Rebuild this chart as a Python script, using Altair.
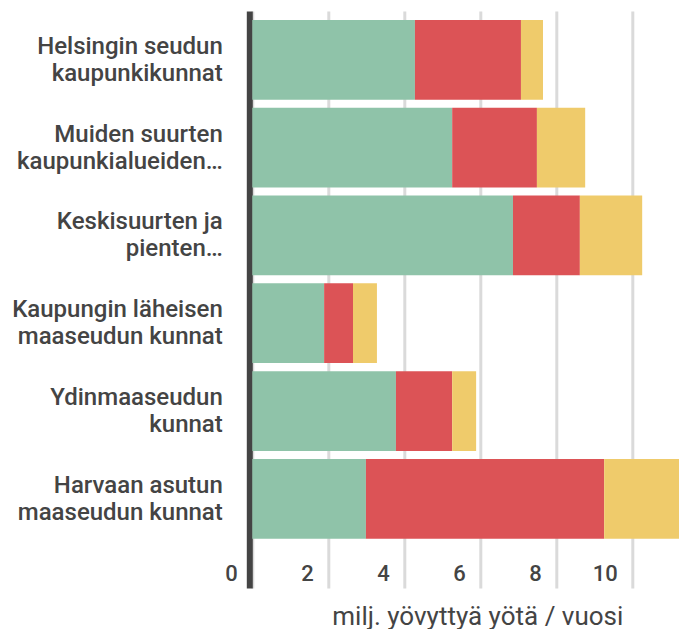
import altair as alt
import pandas as pd

categories = [
    "Helsingin seudun|kaupunkikunnat",
    "Muiden suurten|kaupunkialueiden…",
    "Keskisuurten ja|pienten…",
    "Kaupungin läheisen|maaseudun kunnat",
    "Ydinmaaseudun|kunnat",
    "Harvaan asutun|maaseudun kunnat",
]
series = ["Majoitusliikkeet", "Vapaa-ajan asunnot", "Sukulaiset ja tuttavat"]
green_values = [4.28, 5.26, 6.86, 1.89, 3.78, 2.99]
red_values = [2.79, 2.23, 1.76, 0.76, 1.48, 6.27]
yellow_values = [0.58, 1.27, 1.64, 0.63, 0.63, 1.97]
colors = ["#8FC3A9", "#DC5356", "#EFCB6B"]
x_ticks = [0, 2, 4, 6, 8, 10]
x_title = "milj. yövyttyä yötä / vuosi"

rows = []
for i, cat in enumerate(categories):
    for j, (s, vals) in enumerate(zip(series, [green_values, red_values, yellow_values])):
        rows.append({"alue": cat, "tyyppi": s, "arvo": vals[i], "jarj": j})
df = pd.DataFrame(rows)

FONT = "Roboto"

chart = (
    alt.Chart(df)
    .mark_bar()
    .encode(
        x=alt.X(
            "arvo:Q",
            stack="zero",
            scale=alt.Scale(domain=[0, 11.1], nice=False),
            axis=alt.Axis(
                values=x_ticks,
                grid=True,
                gridColor="#dadada",
                gridWidth=3,
                domain=False,
                ticks=False,
                tickSize=0,
                labelAlign="right",
                labelOffset=-15,
                labelBaseline="alphabetic",
                labelPadding=-8,
                labelFlush=False,
                labelFont=FONT,
                labelFontSize=22,
                labelFontWeight=500,
                labelColor="#444444",
                title=x_title,
                titleFont=FONT,
                titleFontSize=26,
                titleFontWeight=400,
                titleColor="#444444",
                titleX=225,
                titleY=36,
                titleBaseline="alphabetic",
                titleAlign="center",
            ),
        ),
        y=alt.Y(
            "alue:N",
            sort=categories,
            scale=alt.Scale(paddingInner=0.092, paddingOuter=0.332, align=0.154),
            axis=alt.Axis(
                title=None,
                domain=True,
                domainColor="#444444",
                domainWidth=6,
                offset=3,
                ticks=False,
                tickSize=0,
                grid=False,
                labelPadding=27,
                labelOffset=-13,
                labelFont=FONT,
                labelFontSize=24,
                labelFontWeight=500,
                labelColor="#444444",
                labelLineHeight=27,
                labelLimit=0,
                labelExpr="split(datum.label, '|')",
            ),
        ),
        color=alt.Color("tyyppi:N", scale=alt.Scale(domain=series, range=colors), legend=None),
        order=alt.Order("jarj:Q"),
    )
    .properties(
        width=421.8,
        height=577,
        autosize=alt.AutoSizeParams(type="none"),
        padding={"left": 244.3, "top": 3, "right": 4.9, "bottom": 41},
    )
    .configure_view(stroke=None)
)

chart.save("out.html", embed_options={"renderer": "svg", "actions": False})
